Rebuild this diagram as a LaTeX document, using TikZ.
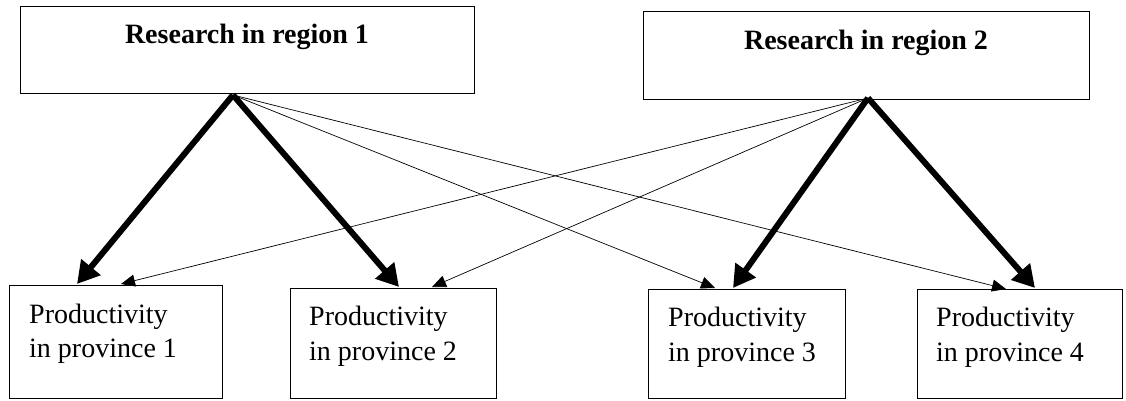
\documentclass[tikz,border=0pt]{standalone}
\usepackage{fontspec}
\setmainfont{Liberation Serif}
\usetikzlibrary{arrows.meta}
\tikzset{
  boxnode/.style={draw, line width=1.4pt, anchor=north west, inner sep=0pt},
  toptext/.style={anchor=base, inner sep=0pt, font=\fontsize{28}{33}\selectfont\bfseries},
  bottext/.style={anchor=base west, inner sep=0pt, font=\fontsize{28}{33}\selectfont},
  thick arrow/.style={line width=6pt, -{Triangle[length=22pt,width=24pt]}},
  thin arrow/.style={line width=0.7pt, -{Triangle[length=14pt,width=12pt]}}
}
\begin{document}
\begin{tikzpicture}[x=1pt,y=-1pt]
\useasboundingbox (0,0) rectangle (1126,400);
% top boxes
\node[boxnode, minimum width=454pt, minimum height=87pt] (r1) at (20,6) {};
\node[toptext] (r1t) at (247,43) {Research in region 1};
\node[boxnode, minimum width=446pt, minimum height=88pt] (r2) at (643,11) {};
\node[toptext] (r2t) at (866,49) {Research in region 2};
% bottom boxes
\node[boxnode, minimum width=213pt, minimum height=113pt] (p1) at (9,285) {};
\node[bottext] (p1a) at (29,323) {Productivity};
\node[bottext] (p1b) at (29,357) {in province 1};
\node[boxnode, minimum width=206pt, minimum height=110pt] (p2) at (290,288) {};
\node[bottext] (p2a) at (309,325) {Productivity};
\node[bottext] (p2b) at (309,360) {in province 2};
\node[boxnode, minimum width=197pt, minimum height=109pt] (p3) at (648,289) {};
\node[bottext] (p3a) at (668,326) {Productivity};
\node[bottext] (p3b) at (668,361) {in province 3};
\node[boxnode, minimum width=205pt, minimum height=109pt] (p4) at (917,289) {};
\node[bottext] (p4a) at (936,326) {Productivity};
\node[bottext] (p4b) at (936,361) {in province 4};
% connector end points
\coordinate (a1) at (233,95);
\coordinate (a2) at (868,98);
\coordinate (t1k) at (77,284);
\coordinate (t1n) at (121,284);
\coordinate (t2k) at (399,287);
\coordinate (t2n) at (432,287);
\coordinate (t3n) at (715,288);
\coordinate (t3k) at (733,288);
\coordinate (t4n) at (1006,289);
\coordinate (t4k) at (1035,288);
% connectors
\draw[thick arrow] (a1) -- (t1k);
\draw[thick arrow] (a1) -- (t2k);
\draw[thin arrow] (a1) -- (t3n);
\draw[thin arrow] (a1) -- (t4n);
\draw[thick arrow] (a2) -- (t3k);
\draw[thick arrow] (a2) -- (t4k);
\draw[thin arrow] (a2) -- (t1n);
\draw[thin arrow] (a2) -- (t2n);
\end{tikzpicture}
\end{document}
